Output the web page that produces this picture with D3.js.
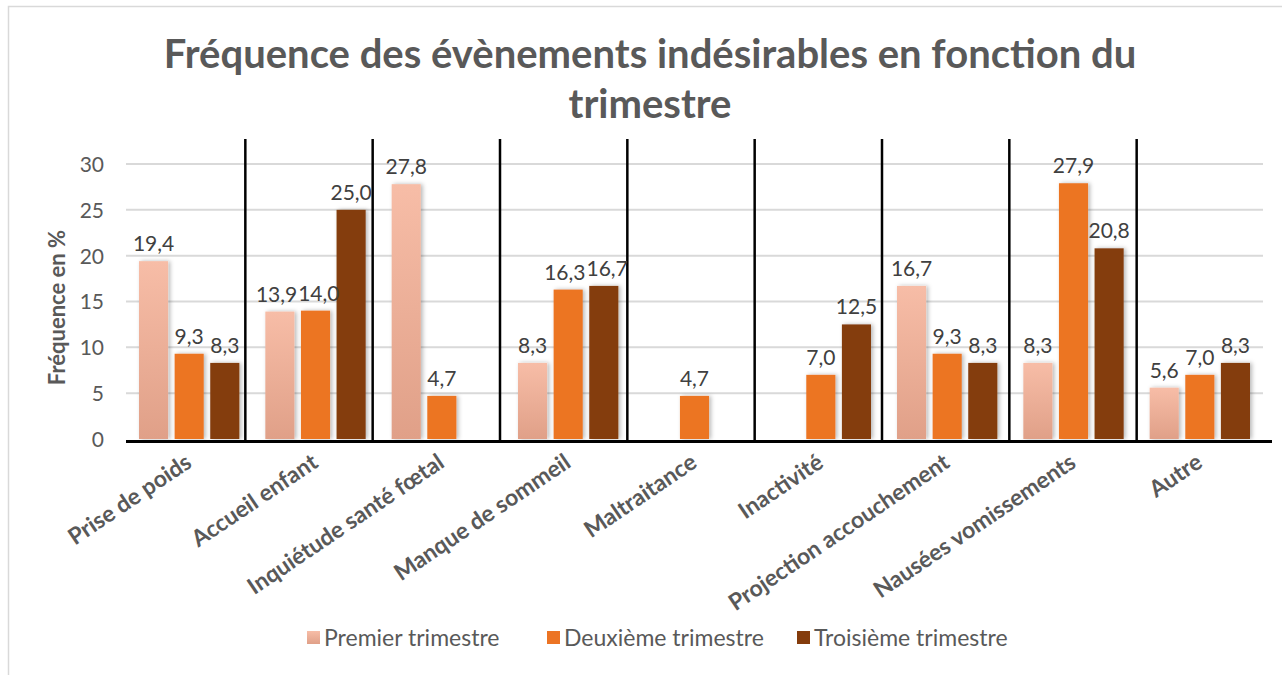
<!DOCTYPE html>
<html><head><meta charset="utf-8">
<script src="https://cdn.jsdelivr.net/npm/d3@7"></script>
<style>body{margin:0;background:#fff}svg{display:block}</style>
</head><body>
<svg id="c" width="1282" height="675"></svg>
<script>
const categories = ["Prise de poids","Accueil enfant","Inquiétude santé fœtal","Manque de sommeil","Maltraitance","Inactivité","Projection accouchement","Nausées vomissements","Autre"];
const seriesNames = ["Premier trimestre","Deuxième trimestre","Troisième trimestre"];
const premier = [19.4,13.9,27.8,8.3,null,null,16.7,8.3,5.6];
const deuxieme = [9.3,14.0,4.7,16.3,4.7,7.0,9.3,27.9,7.0];
const troisieme = [8.3,25.0,null,16.7,null,12.5,8.3,20.8,8.3];
const yTicks = [0,5,10,15,20,25,30];
const title = ["Fréquence des évènements indésirables en fonction du","trimestre"];
const yTitle = "Fréquence en %";

(function(){
const series = [premier, deuxieme, troisieme];
const colors = ["url(#gPink)","#EC7424","#843C0C"];
const legendColors = ["url(#gPinkL)","#EC7424","#843C0C"];
const FONT = "Lato, 'Open Sans', sans-serif";

const svg = d3.select("#c");
const defs = svg.append("defs");
const g1 = defs.append("linearGradient").attr("id","gPink").attr("x1",0).attr("y1",0).attr("x2",0).attr("y2",1);
g1.append("stop").attr("offset","0%").attr("stop-color","#F7BDA7");
g1.append("stop").attr("offset","100%").attr("stop-color","#E0A088");
const g2 = defs.append("linearGradient").attr("id","gPinkL").attr("x1",0).attr("y1",0).attr("x2",0).attr("y2",1);
g2.append("stop").attr("offset","0%").attr("stop-color","#F7BDA7");
g2.append("stop").attr("offset","100%").attr("stop-color","#E0A088");
const f = defs.append("filter").attr("id","sh").attr("x","-30%").attr("y","-10%").attr("width","160%").attr("height","120%");
f.append("feDropShadow").attr("dx",2).attr("dy",0).attr("stdDeviation",2).attr("flood-color","#000").attr("flood-opacity",0.28);

// chart border
svg.append("rect").attr("x",8.5).attr("y",6.5).attr("width",1300).attr("height",700)
  .attr("fill","none").attr("stroke","#D9D9D9").attr("stroke-width",1.5);

const pLeft = 126, pRight = 1263, pTop = 164, pBottom = 439;
const x = d3.scaleBand().domain(categories).range([pLeft,pRight]).padding(0);
const xs = d3.scaleBand().domain(d3.range(3)).range([13, x.bandwidth()-13]).paddingInner(0.183).paddingOuter(0);
const y = d3.scaleLinear().domain([0,30]).range([pBottom, pTop]);

// gridlines
svg.append("g").selectAll("line").data(yTicks.filter(t=>t>0)).join("line")
  .attr("x1",pLeft).attr("x2",pRight).attr("y1",d=>y(d)).attr("y2",d=>y(d))
  .attr("stroke","#D9D9D9").attr("stroke-width",2);

// y axis labels
const yAxis = svg.append("g").attr("transform",`translate(${pLeft-22},0)`)
  .call(d3.axisLeft(y).tickValues(yTicks).tickSize(0).tickPadding(0).tickFormat(d3.format("d")));
yAxis.select(".domain").remove();
yAxis.selectAll("text").attr("font-family",FONT).attr("font-size",21).attr("fill","#595959").attr("dy","0.35em");

// bars
const data = [];
categories.forEach((c,i)=>series.forEach((s,k)=>{ if(s[i]!=null) data.push({c,k,v:s[i]}); }));
svg.append("g").selectAll("rect").data(data).join("rect")
  .attr("x",d=>x(d.c)+xs(d.k)).attr("width",xs.bandwidth())
  .attr("y",d=>y(d.v)).attr("height",d=>y(0)-y(d.v))
  .attr("fill",d=>colors[d.k]).attr("filter","url(#sh)");

// separators
const seps = categories.slice(1);
svg.append("g").selectAll("line").data(seps).join("line")
  .attr("x1",(d,i)=>x(d)-(7-i)).attr("x2",(d,i)=>x(d)-(7-i))
  .attr("y1",139).attr("y2",pBottom+2)
  .attr("stroke","#000").attr("stroke-width",2.5);

// x axis line
svg.append("line").attr("x1",pLeft).attr("x2",1272).attr("y1",pBottom+2.5).attr("y2",pBottom+2.5)
  .attr("stroke","#000").attr("stroke-width",3);

// data labels
const fmt = v => d3.format(".1f")(v).replace(".",",");
const labels = svg.append("g").selectAll("text").data(data).join("text")
  .attr("x",d=>x(d.c)+xs(d.k)+xs.bandwidth()/2).attr("y",d=>y(d.v)-10)
  .attr("text-anchor","middle").attr("font-family",FONT).attr("font-size",21).attr("fill","#404040")
  .text(d=>fmt(d.v));
// nudge neighbouring labels apart when they collide (same group, similar height)
labels.each(function(d){ d.w = this.getComputedTextLength(); d.cx = x(d.c)+xs(d.k)+xs.bandwidth()/2; d.ly = y(d.v)-10; });
for (let i=1;i<data.length;i++){
  const a = data[i-1], b = data[i];
  if (a.c!==b.c || Math.abs(a.ly-b.ly)>20) continue;
  const gap = (b.cx - b.w/2) - (a.cx + a.w/2);
  if (gap < 1){ const s = (1-gap)/2; a.cx -= s; b.cx += s; }
}
labels.attr("x",d=>d.cx);

// x labels
svg.append("g").selectAll("text").data(categories).join("text")
  .attr("transform",d=>`translate(${x(d)+x.bandwidth()/2+4},${pBottom+27}) rotate(-34)`)
  .attr("text-anchor","end").attr("font-family",FONT).attr("font-weight","bold")
  .attr("font-size",23).attr("fill","#595959").text(d=>d);

// title
svg.append("g").selectAll("text").data(title).join("text")
  .attr("x",650).attr("y",(d,i)=>68+i*50).attr("text-anchor","middle")
  .attr("font-family",FONT).attr("font-weight","bold").attr("font-size",40).attr("fill","#595959")
  .text(d=>d);

// y title
svg.append("text").attr("transform",`translate(65,${(pTop+pBottom)/2+6}) rotate(-90)`)
  .attr("text-anchor","middle").attr("font-family",FONT).attr("font-weight","bold")
  .attr("font-size",22).attr("fill","#595959").text(yTitle);

// legend
const lx = [307, 547, 797];
const lg = svg.append("g").selectAll("g").data(seriesNames).join("g")
  .attr("transform",(d,i)=>`translate(${lx[i]},638)`);
lg.append("rect").attr("x",0).attr("y",-7).attr("width",13).attr("height",13).attr("fill",(d,i)=>legendColors[i]);
lg.append("text").attr("x",17).attr("y",0).attr("dy","0.35em").attr("font-family",FONT)
  .attr("font-size",23).attr("fill","#595959").text(d=>d);
})();
</script>
</body></html>
